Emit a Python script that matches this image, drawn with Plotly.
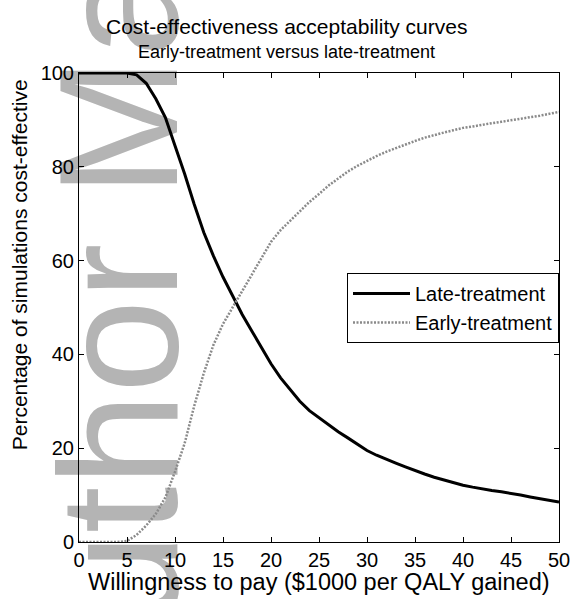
import plotly.graph_objects as go

# Willingness to pay ($1000 per QALY gained)
wtp = list(range(0, 51))

late_treatment = [100, 100, 100, 100, 100, 100, 99.6, 97.8, 94.5, 90.5,
                  84.5, 78.5, 72, 66, 61, 56.5, 52.5, 48.5, 45, 41.5,
                  38, 35, 32.5, 30, 28, 26.5, 25, 23.5, 22.2, 20.8,
                  19.5, 18.5, 17.6, 16.8, 16, 15.2, 14.5, 13.8, 13.2, 12.6,
                  12.1, 11.7, 11.3, 11, 10.7, 10.4, 10, 9.6, 9.2, 8.8, 8.5]

early_treatment = [0, 0, 0, 0, 0, 0.2, 1.5, 3.5, 6, 9.5,
                   15, 21, 29, 36, 42, 46.5, 50, 53.5, 57, 60.5,
                   64, 66.5, 68.5, 70.5, 72.5, 74.2, 76, 77.5, 79, 80.2,
                   81.3, 82.3, 83.2, 84, 84.8, 85.5, 86.2, 86.8, 87.3, 87.8,
                   88.3, 88.6, 89, 89.3, 89.6, 89.9, 90.3, 90.6, 90.9, 91.3, 91.7]

x_ticks = [0, 5, 10, 15, 20, 25, 30, 35, 40, 45, 50]
y_ticks = [0, 20, 40, 60, 80, 100]

FONT = "Arial, 'Liberation Sans', sans-serif"
W, H = 582, 599
ML, MR, MT, MB = 79, 13, 73, 57
PW, PH = W - ML - MR, H - MT - MB


def px(xp):
    return (xp - ML) / PW


def py(yp):
    return (H - MB - yp) / PH


fig = go.Figure()
fig.add_trace(go.Scatter(x=wtp, y=late_treatment, mode="lines", name="Late-treatment",
                         line=dict(color="black", width=3)))
fig.add_trace(go.Scatter(x=wtp, y=early_treatment, mode="lines", name="Early-treatment",
                         line=dict(color="#8a8a8a", width=2.5, dash="2px,1.5px")))

axis_common = dict(showline=True, linecolor="black", linewidth=1, mirror="ticks",
                   ticks="inside", ticklen=5, tickwidth=1, tickcolor="black",
                   showgrid=False, zeroline=False,
                   tickfont=dict(family=FONT, size=20, color="black"))

fig.update_xaxes(range=[0, 50], tickvals=x_ticks, **axis_common)
fig.update_yaxes(range=[0, 100], tickvals=y_ticks, **axis_common)

# watermark (behind plot)
cx, cy = px(104), py(57)
fig.add_shape(type="rect", xref="paper", yref="paper", layer="below",
              x0=cx - 0.001, x1=cx + 0.001, y0=cy - 0.001, y1=cy + 0.001,
              line=dict(width=0), fillcolor="rgba(0,0,0,0)",
              label=dict(text="Author Manuscript", textangle=-90, textposition="middle center",
                         font=dict(family=FONT, size=168, color="#b4b4b4")))

fig.add_annotation(text="Cost-effectiveness acceptability curves", xref="paper", yref="paper",
                   x=px(291), y=py(26), xanchor="center", yanchor="middle", showarrow=False,
                   font=dict(family=FONT, size=21, color="black"))
fig.add_annotation(text="Early-treatment versus late-treatment", xref="paper", yref="paper",
                   x=px(291), y=py(52), xanchor="center", yanchor="middle", showarrow=False,
                   font=dict(family=FONT, size=18, color="black"))
fig.add_annotation(text="Willingness to pay ($1000 per QALY gained)", xref="paper", yref="paper",
                   x=px(324.5), y=py(582), xanchor="center", yanchor="middle", showarrow=False,
                   font=dict(family=FONT, size=23.5, color="black"))
fig.add_annotation(text="Percentage of simulations cost-effective", xref="paper", yref="paper",
                   x=px(18), y=py(265), xanchor="center", yanchor="middle", showarrow=False,
                   textangle=-90, font=dict(family=FONT, size=21, color="black"))

fig.update_layout(
    width=W, height=H,
    margin=dict(l=ML, r=MR, t=MT, b=MB, pad=0),
    paper_bgcolor="white", plot_bgcolor="rgba(0,0,0,0)",
    showlegend=True,
    legend=dict(x=px(569), y=py(273), xanchor="right", yanchor="top",
                bgcolor="white", bordercolor="black", borderwidth=1,
                font=dict(family=FONT, size=20, color="black"),
                tracegroupgap=0, itemwidth=57),
)

fig.write_html("out.html")
